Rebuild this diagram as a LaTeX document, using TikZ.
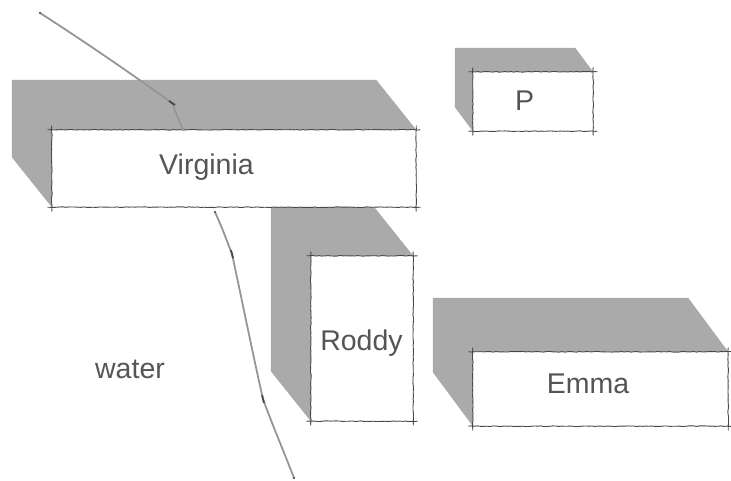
\documentclass[tikz,border=0pt]{standalone}
\usepackage{fontspec}
\setmainfont{Liberation Sans}
\usetikzlibrary{calc,decorations.pathmorphing}
\definecolor{roofgray}{RGB}{170,170,170}
\definecolor{ink}{RGB}{72,72,72}
\definecolor{labelgray}{RGB}{85,85,85}
\definecolor{creek}{RGB}{150,150,150}
\tikzset{
  room/.style={rectangle, inner sep=0pt, draw=none},
  edge/.style={draw=ink, line width=0.9pt, line cap=round,
    decorate, decoration={random steps, segment length=3pt, amplitude=0.35pt}},
  stream/.style={draw=creek, line width=1.8pt, line cap=round, line join=round},
  tag/.style={text=labelgray, font=\fontsize{28.5}{32}\selectfont, inner sep=0pt, anchor=base}
}
% shadow block, white face and hand-drawn outline of a room
\newcommand\sketchroom[3]{%
  \fill[roofgray] ($(#1.north west)+(#2,#3)$) -- ($(#1.north east)+(#2,#3)$)
    -- (#1.north east) -- (#1.south east) -- (#1.south west)
    -- ($(#1.south west)+(#2,#3)$) -- cycle;
  \fill[white] (#1.north west) rectangle (#1.south east);
  \draw[edge] ($(#1.north west)+(-4,0)$) -- ($(#1.north east)+(4,0)$);
  \draw[edge] ($(#1.south west)+(-4,0)$) -- ($(#1.south east)+(4,0)$);
  \draw[edge] ($(#1.north west)+(0,-4)$) -- ($(#1.south west)+(0,4)$);
  \draw[edge] ($(#1.north east)+(0,-4)$) -- ($(#1.south east)+(0,4)$);
}
\begin{document}
\begin{tikzpicture}[x=1pt,y=-1pt]
\useasboundingbox (0,0) rectangle (731,481);

% room faces
\node[room, minimum width=364pt, minimum height=77pt] (virginia) at (234,168.5) {};
\node[room, minimum width=120pt, minimum height=59pt] (p) at (533,101.5) {};
\node[room, minimum width=102pt, minimum height=165pt] (roddy) at (362,338.5) {};
\node[room, minimum width=255pt, minimum height=74pt] (emma) at (600.5,389) {};

\sketchroom{roddy}{-40}{-50}
\sketchroom{virginia}{-40}{-50}
\sketchroom{p}{-18}{-24}
\sketchroom{emma}{-40}{-54}

% the stream
\coordinate (s1) at (40,13);
\coordinate (s2) at (172,103);
\coordinate (s3) at (183,130);
\draw[stream] (s1) .. controls (90,45) and (140,80) .. (s2) -- (s3);
\draw[ink, line width=1.8pt] ($(s2)+(-3,-2)$) -- ($(s2)+(3,2)$);
\fill[ink] (s1) circle (1.2pt);

\coordinate (t1) at (215,212);
\coordinate (t2) at (232,254);
\coordinate (t3) at (263,399);
\coordinate (t4) at (294,478);
\draw[stream] (t1) .. controls (224,232) and (228,244) .. (t2)
  .. controls (242,300) and (254,360) .. (t3)
  .. controls (272,424) and (284,452) .. (t4);
\draw[ink, line width=1.8pt] ($(t2)+(-1,-4)$) -- ($(t2)+(1,4)$);
\draw[ink, line width=1.8pt] ($(t3)+(-1,-4)$) -- ($(t3)+(1,4)$);
\fill[ink] (t1) circle (1.2pt);
\fill[ink] (t4) circle (1.2pt);

% labels
\node[tag] (lv) at (206.5,175) {Virginia};
\node[tag] (lp) at (524.5,111) {P};
\node[tag] (lr) at (361.5,350) {Roddy};
\node[tag] (le) at (588,393) {Emma};
\node[tag] (lw) at (130,378) {water};
\end{tikzpicture}
\end{document}
